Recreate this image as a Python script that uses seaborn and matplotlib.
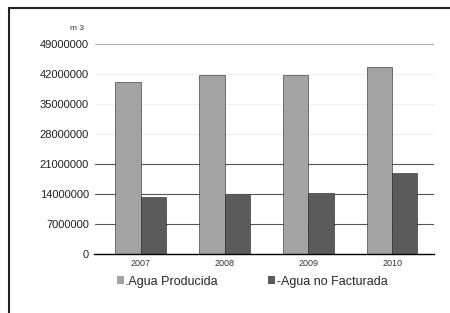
import pandas as pd
import numpy as np
import matplotlib.pyplot as plt
import seaborn as sns
from matplotlib.lines import Line2D
from matplotlib.patches import Patch

# Datos
anios = ['2007', '2008', '2009', '2010']
agua_producida = [40000000, 41700000, 41700000, 43700000]
agua_no_facturada = [13200000, 13700000, 14100000, 18900000]
ticks_y = [0, 7000000, 14000000, 21000000, 28000000, 35000000, 42000000, 49000000]

df = pd.DataFrame({
    'anio': anios * 2,
    'valor': agua_producida + agua_no_facturada,
    'serie': ['Agua Producida'] * 4 + ['Agua no Facturada'] * 4,
})

sns.set_style('white')
plt.rcParams['font.family'] = ['Liberation Sans', 'DejaVu Sans']

colores = {'Agua Producida': '#a3a3a3', 'Agua no Facturada': '#5b5b5b'}

fig = plt.figure(figsize=(4.5, 3.13), dpi=100)
ax = fig.add_axes([0.21, 0.19, 0.755, 0.67])

# lineas de division (las del medio casi no se ven en el original)
for y in ticks_y[1:]:
    if y in (7000000, 14000000, 21000000):
        c = '#555555'
    elif y == 49000000:
        c = '#aaaaaa'
    else:
        c = '#f0f0f0'
    ax.axhline(y, color=c, lw=0.8, zorder=0)

sns.barplot(data=df, x='anio', y='valor', hue='serie', palette=colores,
            width=0.6, ax=ax, edgecolor='#222222', linewidth=0.4, zorder=2)

ax.set_ylim(0, 49000000)
ax.set_xlim(-0.55, 3.5)
ax.set_yticks(ticks_y)
ax.set_yticklabels([str(t) for t in ticks_y], fontsize=8, color='#222222')
ax.tick_params(axis='x', labelsize=6.5, colors='#333333', length=0, pad=4)
ax.tick_params(axis='y', length=0, pad=4)
ax.set_xlabel('')
ax.set_ylabel('')
for s in ['left', 'top', 'right']:
    ax.spines[s].set_visible(False)
ax.spines['bottom'].set_color('black')
ax.spines['bottom'].set_linewidth(1.0)

fig.text(0.155, 0.905, 'm 3', fontsize=6, color='#333333')

ax.get_legend().remove()
handles = [Patch(facecolor=colores[k], edgecolor='none') for k in colores]
fig.legend(handles, ['.Agua Producida', '-Agua no Facturada'], loc='center',
           bbox_to_anchor=(0.56, 0.1), ncol=2, frameon=False, fontsize=9,
           handlelength=0.6, handleheight=0.6, handletextpad=0.1,
           columnspacing=4.0)

# borde superior e izquierdo (imagen recortada)
fig.add_artist(Line2D([0.019, 1.0], [0.973, 0.973], transform=fig.transFigure,
                      color='#222222', lw=1.5))
fig.add_artist(Line2D([0.019, 0.019], [0.0, 0.973], transform=fig.transFigure,
                      color='#222222', lw=1.5))

fig.savefig('out.png', dpi=100)
